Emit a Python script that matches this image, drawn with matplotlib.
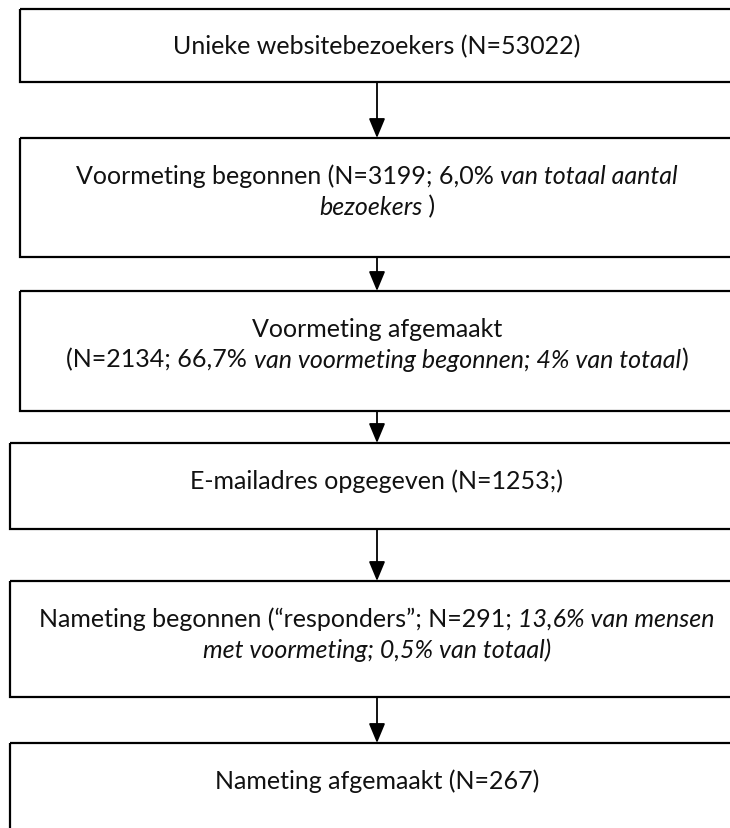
import matplotlib
matplotlib.use('Agg')
import matplotlib.pyplot as plt
from matplotlib.patches import Rectangle

# Flow of respondents through the study, one box per step.
# Each box: list of lines, each line a list of (text, italic) pieces.
step_lines = [
    [[("Unieke websitebezoekers (N=53022)", False)]],
    [[("Voormeting begonnen (N=3199; 6,0% ", False), ("van totaal aantal", True)],
     [("bezoekers", True), (" )", False)]],
    [[("Voormeting afgemaakt", False)],
     [("(N=2134; 66,7% ", False), ("van voormeting begonnen; 4% van totaal", True), (")", False)]],
    [[("E-mailadres opgegeven (N=1253;)", False)]],
    [[("Nameting begonnen (\u201cresponders\u201d; N=291; ", False), ("13,6% van mensen", True)],
     [("met voormeting; 0,5% van totaal)", True)]],
    [[("Nameting afgemaakt (N=267)", False)]],
]

# layout in pixels (figure is 730x829 at dpi 100)
W, H = 730, 829
box_top = [10, 139, 292, 444, 582, 744]
box_bottom = [83, 258, 412, 530, 698, 850]
box_left = [20, 20, 20, 10, 10, 10]
box_right = 745
center_x = 377
first_line = 37
line_gap = 31
FONT = 'Lato'
FS = 18

fig = plt.figure(figsize=(W / 100, H / 100), dpi=100)
ax = fig.add_axes([0, 0, 1, 1])
ax.set_xlim(0, W)
ax.set_ylim(H, 0)
ax.axis('off')

renderer = fig.canvas.get_renderer()

for i, lines in enumerate(step_lines):
    ax.add_patch(Rectangle((box_left[i], box_top[i]), box_right - box_left[i],
                           box_bottom[i] - box_top[i], fill=False,
                           edgecolor='black', lw=1.6))
    for j, pieces in enumerate(lines):
        y = box_top[i] + first_line + j * line_gap
        # draw pieces, measure, then shift so the whole line is centred
        texts = []
        x = 0
        for txt, ital in pieces:
            t = ax.text(x, y, txt, fontsize=FS, family=FONT,
                        style='italic' if ital else 'normal',
                        ha='left', va='center', color='#111111')
            w = t.get_window_extent(renderer).width
            texts.append((t, x))
            x += w
        start = center_x - x / 2
        for t, off in texts:
            t.set_x(start + off)

    if i < len(step_lines) - 1:
        ax.annotate('', xy=(center_x, box_top[i + 1]), xytext=(center_x, box_bottom[i]),
                    arrowprops=dict(arrowstyle='-|>,head_length=0.6,head_width=0.25',
                                    mutation_scale=20, lw=1.3, color='black',
                                    shrinkA=0, shrinkB=0))

fig.savefig('out.png', dpi=100)
